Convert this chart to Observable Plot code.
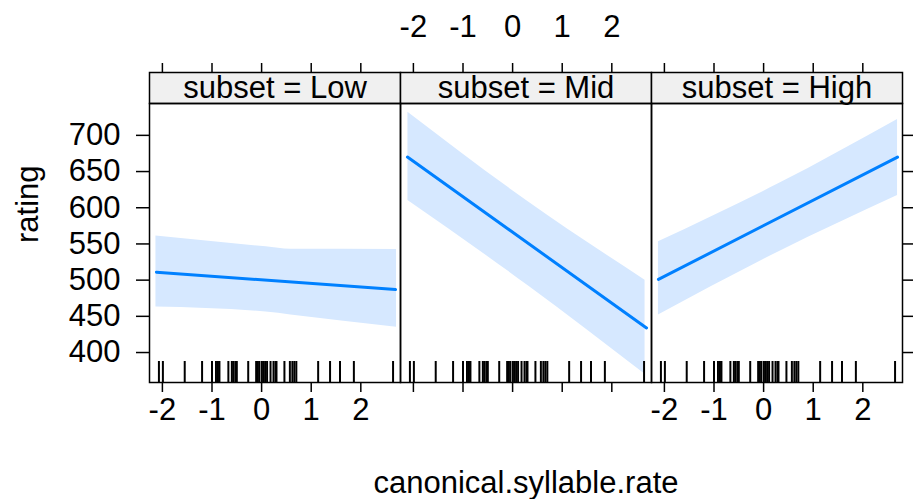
<!DOCTYPE html>
<html><head><meta charset="utf-8">
<script src="https://cdn.jsdelivr.net/npm/d3@7"></script>
<script src="https://cdn.jsdelivr.net/npm/@observablehq/plot@0.6"></script>
<style>body{margin:0;background:#fff} svg{display:block}</style>
</head><body><div id="chart"></div>
<script>
const panels = ["Low", "Mid", "High"];
const xTicks = [-2, -1, 0, 1, 2];
const yTicks = [400, 450, 500, 550, 600, 650, 700];
const bottomLabelPanels = ["Low", "High"];
const topLabelPanels = ["Mid"];

const fitX = [-2.12, 2.70];
const fitLow = [511, 487];
const fitMid = [670, 434];
const fitHigh = [501, 670];

const bandXLow = [-2.13, 0.09, 0.59, 2.72];
const upperLow = [561, 546, 542.6, 542.4];
const lowerLow = [463, 456, 452, 435];
const bandXMid = [-2.11, 0.3, 2.67];
const upperMid = [732, 609, 500];
const lowerMid = [610, 493, 370];
const bandXHigh = [-2.12, 0.3, 2.70];
const upperHigh = [553, 633, 722];
const lowerHigh = [452, 539, 617];

const rug = [-2.07, -1.99, -1.55, -1.20, -1.00, -0.92, -0.88, -0.85, -0.67, -0.60, -0.57, -0.53, -0.50,
  -0.27, -0.11, -0.08, -0.05, 0.00, 0.03, 0.07, 0.11, 0.18, 0.24, 0.28, 0.30, 0.46, 0.57, 0.62, 0.66, 0.70,
  1.14, 1.38, 1.58, 1.86, 2.65];

const fits = [];
[["Low", fitLow], ["Mid", fitMid], ["High", fitHigh]].forEach(([p, ys]) =>
  ys.forEach((y, i) => fits.push({panel: p, x: fitX[i], y})));
const bands = [];
[["Low", bandXLow, lowerLow, upperLow], ["Mid", bandXMid, lowerMid, upperMid], ["High", bandXHigh, lowerHigh, upperHigh]]
  .forEach(([p, xs, lo, hi]) => xs.forEach((x, i) => bands.push({panel: p, x, lo: lo[i], hi: hi[i]})));
const bottomLabels = bottomLabelPanels.flatMap(p => xTicks.map(t => ({panel: p, t})));
const topLabels = topLabelPanels.flatMap(p => xTicks.map(t => ({panel: p, t})));

const fs = 31;
const chart = Plot.plot({
  width: 914, height: 499,
  marginLeft: 148, marginRight: 11, marginTop: 103, marginBottom: 117,
  style: {fontFamily: "'Liberation Sans', Arial, sans-serif", background: "white", color: "black"},
  fx: {domain: panels, padding: 0, axis: null, label: null},
  x: {domain: [-2.26, 2.80]},
  y: {domain: [358.6, 744]},
  marks: [
    Plot.frame({fill: "#f0f0f0", stroke: "black", strokeWidth: 1.5, insetTop: -31, insetBottom: 279}),
    Plot.areaY(bands, {fx: "panel", x: "x", y1: "lo", y2: "hi", fill: "#d6e8ff", curve: "monotone-x"}),
    Plot.line(fits, {fx: "panel", x: "x", y: "y", stroke: "#0080ff", strokeWidth: 3}),
    Plot.ruleX(rug, {x: d => d, insetTop: 258, stroke: "black", strokeWidth: 2}),
    Plot.frame({stroke: "black", strokeWidth: 1.5}),
    Plot.text(panels, {fx: d => d, text: d => `subset = ${d}`, frameAnchor: "top", lineAnchor: "middle", dy: -15, fontSize: fs}),
    Plot.axisY({anchor: "left", ticks: yTicks, tickSize: 13, tickPadding: 16, fontSize: fs, label: null, strokeWidth: 1.5}),
    Plot.axisY({anchor: "right", ticks: yTicks, tickSize: 10, tickFormat: () => "", label: null, strokeWidth: 1.5}),
    Plot.axisX({anchor: "bottom", ticks: xTicks, tickSize: 10, tickFormat: () => "", label: null, strokeWidth: 1.5}),
    Plot.axisX({anchor: "top", ticks: xTicks, tickSize: 10, tickFormat: () => "", label: null, strokeWidth: 1.5, dy: -31}),
    Plot.text(bottomLabels, {fx: "panel", x: "t", text: d => String(d.t), frameAnchor: "bottom", lineAnchor: "middle", dy: 28, fontSize: fs}),
    Plot.text(topLabels, {fx: "panel", x: "t", text: d => String(d.t), frameAnchor: "top", lineAnchor: "middle", dy: -76, fontSize: fs}),
    Plot.text(["rating"], {fx: () => "Low", text: d => d, frameAnchor: "left", lineAnchor: "middle", dx: -121, rotate: -90, fontSize: fs}),
    Plot.text(["canonical.syllable.rate"], {fx: () => "Mid", text: d => d, frameAnchor: "bottom", lineAnchor: "middle", dy: 101, fontSize: fs})
  ]
});
document.getElementById("chart").appendChild(chart);
</script>
</body></html>
